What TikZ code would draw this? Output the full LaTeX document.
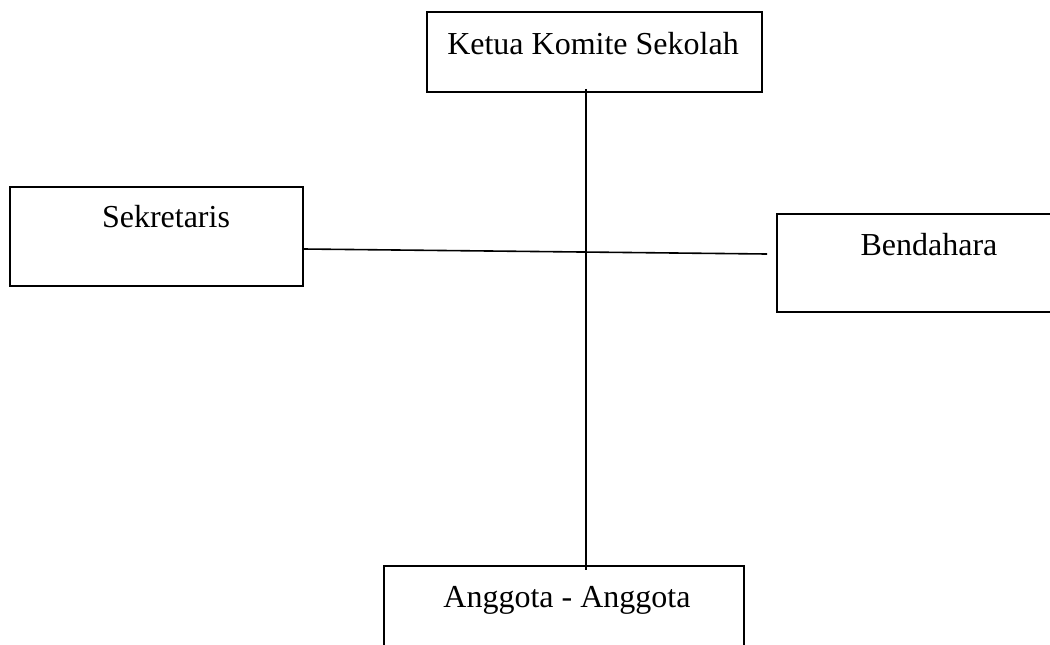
\documentclass[tikz,border=0pt]{standalone}
\usepackage{fontspec}
\setmainfont{Liberation Serif}
\usetikzlibrary{calc}
\tikzset{
  every picture/.style={line width=0.8pt},
  box/.style={draw=black, line width=0.95pt, inner sep=0pt},
  boxtext/.style={anchor=base, inner sep=0pt, font=\fontsize{16pt}{19pt}\selectfont},
  link/.style={draw=black, line width=0.8pt},
}
\begin{document}
\begin{tikzpicture}[x=0.5pt, y=-0.5pt]
  \useasboundingbox (0,0) rectangle (1050,644);
  % boxes
  \node[box, minimum width=167.5pt, minimum height=40pt] (ketua) at (594.5,52) {};
  \node[box, minimum width=146.5pt, minimum height=49.5pt] (sek) at (156.5,236.5) {};
  \node[box, minimum width=146.5pt, minimum height=49pt] (bend) at (923.5,263) {};
  \node[box, minimum width=180pt, minimum height=48pt] (angg) at (564,614) {};
  % texts
  \node[boxtext] (ketuaT) at (593,54) {Ketua Komite Sekolah};
  \node[boxtext] (sekT) at (166,227) {Sekretaris};
  \node[boxtext] (bendT) at (929,255) {Bendahara};
  \node[boxtext] (anggT) at (567,607) {Anggota - Anggota};
  % lines
  \coordinate (hubR) at ($(bend.west)+(-9,-9)$);
  \draw[link] ($(ketua.south)+(-8.5,-4)$) -- ($(angg.north)+(22,5)$);
  \draw[link] ($(sek.east)+(0,12.5)$) -- (hubR);
\end{tikzpicture}
\end{document}
